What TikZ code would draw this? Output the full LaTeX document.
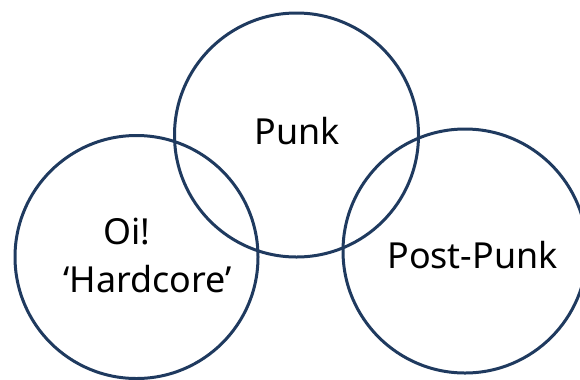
\documentclass[tikz,border=0pt]{standalone}
\usepackage{fontspec}
\setmainfont{Noto Sans}
\usetikzlibrary{calc}
\definecolor{navy}{HTML}{1F3A5F}

\begin{document}
\begin{tikzpicture}[x=1bp, y=-1bp,
  ring/.style={draw=navy, line width=3bp},
  genre/.style={anchor=base, inner sep=0pt, font=\fontsize{36}{40}\selectfont}]
			%%%%% START %%%%%
			\useasboundingbox (0, 0) rectangle (580, 379);
			
			\draw[ring] (296.5, 135) circle (122);
			\draw[ring] (136.5, 257) circle (121.5);
			\draw[ring] (465, 251) circle (122);
			
			\node[genre] (punk) at (297, 144) {Punk};
			\node[genre] (oi) at (127, 244) {Oi!};
			\node[genre] (hardcore) at (147.5, 292) {`Hardcore'};
			\node[genre] (postpunk) at (472.5, 268) {Post-Punk};
			
			%%%%% END %%%%%
\end{tikzpicture}
\end{document}
